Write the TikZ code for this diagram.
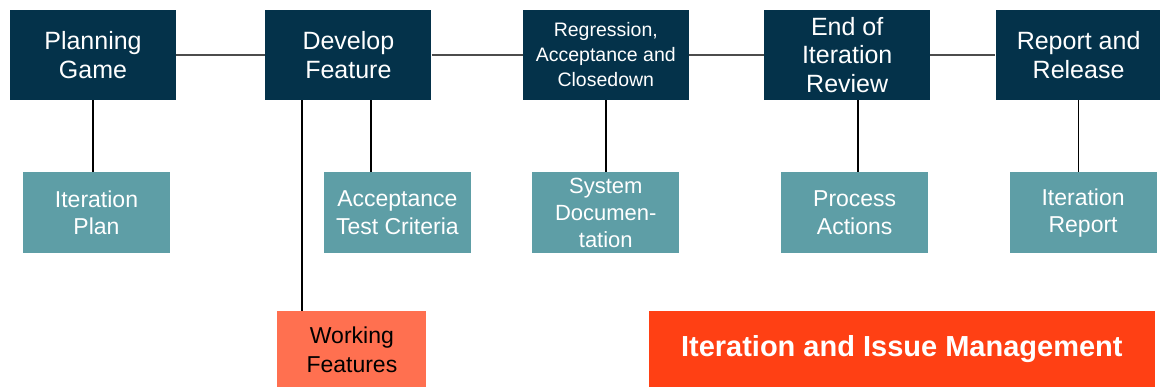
\documentclass[tikz,border=0pt]{standalone}
\usepackage{fontspec}
\setmainfont{Liberation Sans}
\usepackage{tikz}
\usetikzlibrary{positioning}

\definecolor{navy}{HTML}{04324A}
\definecolor{tealbox}{HTML}{5E9EA6}
\definecolor{coral}{HTML}{FF7050}
\definecolor{flame}{HTML}{FF4014}

\begin{document}
\begin{tikzpicture}[
  x=1pt, y=1pt,
  stage/.style={fill=navy, text=white, minimum width=166pt, minimum height=90pt, inner sep=0pt, align=center, font=\fontsize{25}{28.5}\selectfont},
  output/.style={fill=tealbox, text=white, minimum width=147pt, minimum height=81pt, inner sep=0pt, align=center, font=\fontsize{23}{27.5}\selectfont},
  link/.style={line width=1.5pt, black},
  spine/.style={line width=1.2pt, black!70}
]
\useasboundingbox (0,0) rectangle (1160,-387);

% Main spine
\node[stage] (pg) at (93,-55) {Planning\\Game};
\node[stage, right=89pt of pg] (df) {Develop\\Feature};
\node[stage, right=91pt of df, font=\fontsize{19.5}{25}\selectfont] (rac) {Regression,\\Acceptance and\\Closedown};
\node[stage, right=75pt of rac] (eir) {End of\\Iteration\\Review};
\node[stage, right=65pt of eir] (rr) {Report and\\Release};

% Outputs
\node[output, below=72pt of pg, xshift=3.5pt] (ip) {Iteration\\Plan};
\node[output, below=72pt of df, xshift=49pt] (atc) {Acceptance\\Test Criteria};
\node[output, below=72pt of rac, font=\fontsize{22}{27}\selectfont] (sd) {System\\Documen-\\tation};
\node[output, below=72pt of eir, xshift=7.5pt] (pa) {Process\\Actions};
\node[output, below=72pt of rr, xshift=4.5pt] (ir) {Iteration\\Report};

\node[fill=coral, minimum width=149pt, minimum height=76pt, inner sep=0pt, align=center,
      font=\fontsize{23}{29}\selectfont, below=211pt of df, xshift=3.5pt] (wf) {Working\\Features};
\node[fill=flame, text=white, minimum width=506pt, minimum height=76pt, inner sep=0pt,
      font=\fontsize{29}{30}\selectfont\bfseries, right=222pt of wf] (iim) {Iteration and Issue Management};

% Edges
\draw[spine] (pg) -- (df) -- (rac) -- (eir) -- (rr);

\coordinate (dfa) at ([xshift=37pt]df.south west);
\coordinate (dfb) at ([xshift=106pt]df.south west);
\coordinate (eirb) at ([xshift=11pt]eir.south);

\draw[link] (pg.south) -- (pg.south |- ip.north);
\draw[link] (dfa) -- (dfa |- wf.north);
\draw[link] (dfb) -- (dfb |- atc.north);
\draw[link] (rac.south) -- (rac.south |- sd.north);
\draw[link] (eirb) -- (eirb |- pa.north);
\draw[link] (rr.south) -- (rr.south |- ir.north);

\end{tikzpicture}
\end{document}
